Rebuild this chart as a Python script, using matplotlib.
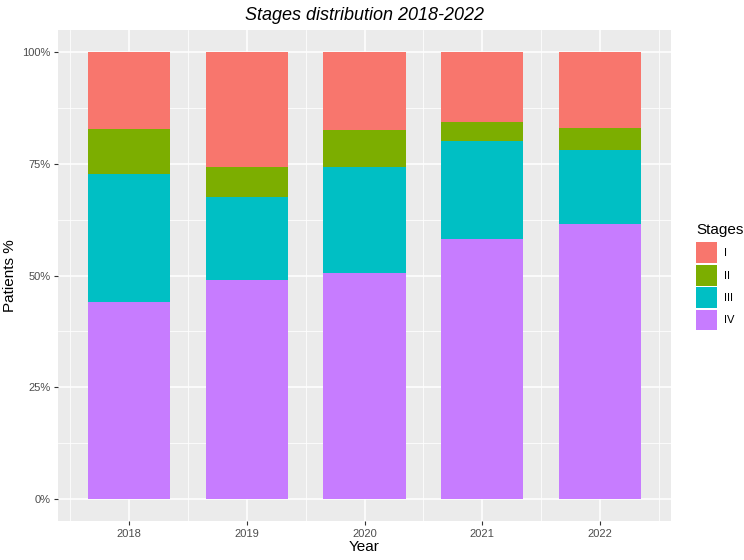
import matplotlib.pyplot as plt
from matplotlib.patches import Patch
from matplotlib.ticker import FixedLocator, PercentFormatter

years = ["2018", "2019", "2020", "2021", "2022"]
stages = ["I", "II", "III", "IV"]
# shares (%)
stage_iv = [44.1, 49.1, 50.5, 58.2, 61.6]
stage_iii = [28.7, 18.4, 23.9, 21.8, 16.4]
stage_ii = [10.1, 6.9, 8.2, 4.3, 5.0]
stage_i = [17.1, 25.6, 17.4, 15.7, 17.0]

COLORS = {"I": "#F8766D", "II": "#7CAE00", "III": "#00BFC4", "IV": "#C77CFF"}


def main():
    plt.rcParams["font.family"] = ["Liberation Sans", "DejaVu Sans"]
    fig = plt.figure(figsize=(7.44, 5.6), dpi=100)
    ax = fig.add_axes([0.0785, 0.0689, 0.8229, 0.878])
    ax.set_facecolor("#EBEBEB")

    x = list(range(1, len(years) + 1))
    bottom = [0.0] * len(years)
    # stack from the bottom: IV, III, II, I
    for name, vals in [("IV", stage_iv), ("III", stage_iii), ("II", stage_ii), ("I", stage_i)]:
        ax.bar(x, vals, width=0.7, bottom=bottom, color=COLORS[name], zorder=3)
        bottom = [b + v for b, v in zip(bottom, vals)]

    ax.set_xlim(0.4, 5.6)
    ax.set_ylim(-5, 105)
    ax.set_xticks(x)
    ax.set_xticklabels(years)
    ax.xaxis.set_minor_locator(FixedLocator([i + 0.5 for i in range(0, 6)]))
    ax.set_yticks([0, 25, 50, 75, 100])
    ax.yaxis.set_minor_locator(FixedLocator([12.5, 37.5, 62.5, 87.5]))
    ax.yaxis.set_major_formatter(PercentFormatter(decimals=0))

    ax.grid(which="major", color="white", linewidth=1.1, zorder=1)
    ax.grid(which="minor", color="white", linewidth=0.55, zorder=1)
    for s in ax.spines.values():
        s.set_visible(False)
    ax.tick_params(which="major", length=3, width=0.8, color="#333333",
                   labelsize=8, labelcolor="#4D4D4D", pad=2.5)
    ax.tick_params(which="minor", length=0)

    ax.set_xlabel("Year", fontsize=11, labelpad=1)
    ax.set_ylabel("Patients %", fontsize=11, labelpad=4)
    ax.set_title("Stages distribution 2018-2022", fontsize=13, style="italic", pad=7)

    handles = [Patch(facecolor=COLORS[s], edgecolor="none") for s in stages]
    fig.legend(handles, stages, loc="upper left", bbox_to_anchor=(0.922, 0.62),
               bbox_transform=fig.transFigure, frameon=False, title="Stages",
               title_fontsize=11, fontsize=8, handlelength=1.85, handleheight=2.5,
               labelspacing=0.15, handletextpad=0.7, alignment="left",
               borderaxespad=0.5)
    leg = fig.legends[0]
    leg._legend_box.sep = 4

    fig.savefig("out.png", dpi=100)


if __name__ == '__main__':
    main()
